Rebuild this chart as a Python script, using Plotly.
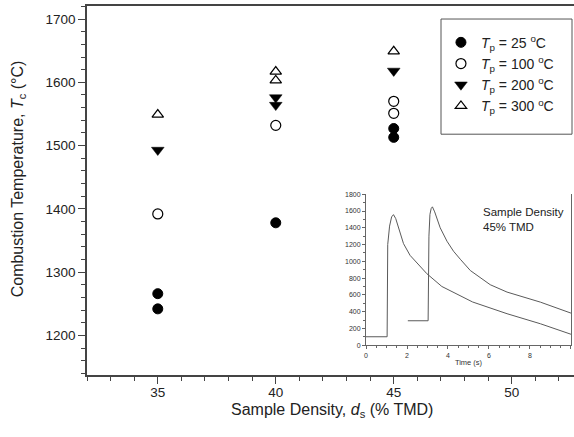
import plotly.graph_objects as go

# ---- main data: combustion temperature vs sample density ----
d_25 = [35, 35, 40, 45, 45]
tc_25 = [1266, 1242, 1378, 1527, 1513]
d_100 = [35, 40, 45, 45]
tc_100 = [1392, 1532, 1570, 1551]
d_200 = [35, 40, 40, 45]
tc_200 = [1493, 1576, 1564, 1618]
d_300 = [35, 40, 40, 45]
tc_300 = [1549, 1617, 1603, 1649]

series_names = ["<i>T</i><sub>p</sub> = 25 <sup>o</sup>C",
                "<i>T</i><sub>p</sub> = 100 <sup>o</sup>C",
                "<i>T</i><sub>p</sub> = 200 <sup>o</sup>C",
                "<i>T</i><sub>p</sub> = 300 <sup>o</sup>C"]

# ---- inset data: temperature traces vs time (45% TMD) ----
time_a = [0, 1.03, 1.06, 1.15, 1.25, 1.34, 1.45, 1.66, 1.83, 2.15, 2.97, 3.7, 5.2, 6.88, 8.51, 10]
temp_a = [100, 100, 1200, 1420, 1530, 1557, 1510, 1349, 1211, 1071, 852, 700, 515, 375, 255, 130]
time_b = [2.04, 3.03, 3.07, 3.12, 3.18, 3.24, 3.35, 3.46, 3.62, 3.95, 4.27, 4.6, 5.09, 6.06, 6.88, 8.51, 10]
temp_b = [291, 291, 1300, 1560, 1630, 1650, 1590, 1509, 1400, 1240, 1120, 1025, 890, 721, 633, 513, 382]

FONT = "Liberation Sans, Arial, sans-serif"
AX = "#444444"

fig = go.Figure()

fig.add_trace(go.Scatter(x=d_25, y=tc_25, mode="markers", name=series_names[0],
                         marker=dict(symbol="circle", size=10, color="black",
                                     line=dict(color="black", width=1))))
fig.add_trace(go.Scatter(x=d_100, y=tc_100, mode="markers", name=series_names[1],
                         marker=dict(symbol="circle-open", size=10, color="black",
                                     line=dict(color="black", width=1.2))))
fig.add_trace(go.Scatter(x=d_200, y=tc_200, mode="markers", name=series_names[2],
                         marker=dict(symbol="triangle-down", size=11, color="black",
                                     line=dict(color="black", width=0.5))))
fig.add_trace(go.Scatter(x=d_300, y=tc_300, mode="markers", name=series_names[3],
                         marker=dict(symbol="triangle-up-open", size=10, color="black",
                                     line=dict(color="black", width=1.2))))

for tx, ty in [(time_a, temp_a), (time_b, temp_b)]:
    fig.add_trace(go.Scatter(x=tx, y=ty, mode="lines", xaxis="x2", yaxis="y2",
                             showlegend=False, line=dict(color="#5a5a5a", width=1)))

fig.update_layout(
    width=574, height=437,
    margin=dict(l=87, r=0, t=6, b=62),
    paper_bgcolor="white", plot_bgcolor="white",
    font=dict(family=FONT, color="#222222"),
    showlegend=True,
    legend=dict(x=0.7268, y=0.9438, xanchor="left", yanchor="top",
                bgcolor="rgba(0,0,0,0)", borderwidth=0,
                font=dict(size=14, family=FONT, color="#222222"),
                tracegroupgap=0),
    xaxis=dict(range=[32, 52.64], showgrid=False, zeroline=False,
               showline=True, linecolor=AX, linewidth=1.5, mirror=True,
               ticks="outside", ticklen=7, tickcolor=AX, tickwidth=1,
               tick0=35, dtick=5, tickfont=dict(size=13.5, color="#222222"),
               ticklabelstandoff=-3,
               minor=dict(dtick=1, tick0=0, ticks="outside", ticklen=4, tickcolor=AX,
                          showgrid=False)),
    yaxis=dict(range=[1137.5, 1720.6], showgrid=False, zeroline=False,
               showline=True, linecolor=AX, linewidth=1.5, mirror=False,
               ticks="outside", ticklen=7, tickcolor=AX, tickwidth=1,
               tick0=1200, dtick=100, tickfont=dict(size=13.5, color="#222222"),
               minor=dict(dtick=20, tick0=1200, ticks="outside", ticklen=4, tickcolor=AX,
                          showgrid=False)),
    xaxis2=dict(domain=[0.5729, 0.9938], anchor="y2", range=[0, 10],
                showgrid=False, zeroline=False, showline=True, linecolor="#666666",
                linewidth=1, ticks="outside", ticklen=3, tickcolor="#666666",
                dtick=2, tick0=0, tickfont=dict(size=7, color="#333333"),
                minor=dict(dtick=0.5, ticks="outside", ticklen=2, tickcolor="#666666"),
                title=dict(text="Time (s)", font=dict(size=7.5, color="#333333"), standoff=2)),
    yaxis2=dict(domain=[0.0809, 0.4898], anchor="x2", range=[0, 1800],
                showgrid=False, zeroline=False, showline=True, linecolor="#666666",
                linewidth=1, mirror=True, ticks="outside", ticklen=3, tickcolor="#666666",
                dtick=200, tick0=0, tickfont=dict(size=7, color="#333333"),
                minor=dict(dtick=100, ticks="outside", ticklen=2, tickcolor="#666666")),
)

# legend frame
fig.add_shape(type="rect", xref="paper", yref="paper",
              x0=0.7269, x1=0.9959, y0=0.6526, y1=0.9647,
              line=dict(color="#555555", width=1), fillcolor="rgba(0,0,0,0)")

fig.add_annotation(text="Combustion Temperature, <i>T</i><sub>c</sub> (°C)",
                   xref="paper", yref="paper", x=-0.1417, y=0.533,
                   textangle=-90, showarrow=False, xanchor="center", yanchor="middle",
                   font=dict(size=16, family=FONT, color="#222222"))
fig.add_annotation(text="Sample Density, <i>d</i><sub>s</sub> (% TMD)",
                   xref="paper", yref="paper", x=0.504, y=-0.097,
                   showarrow=False, xanchor="center", yanchor="middle",
                   font=dict(size=16, family=FONT, color="#222222"))
fig.add_annotation(text="Sample Density<br>45% TMD",
                   xref="x2", yref="y2", x=5.62, y=1500, align="left",
                   showarrow=False, xanchor="left", yanchor="middle",
                   font=dict(size=11.5, family=FONT, color="#222222"))

fig.write_html("out.html", config={"displayModeBar": False},
               post_script="document.body.style.margin='0px';")
